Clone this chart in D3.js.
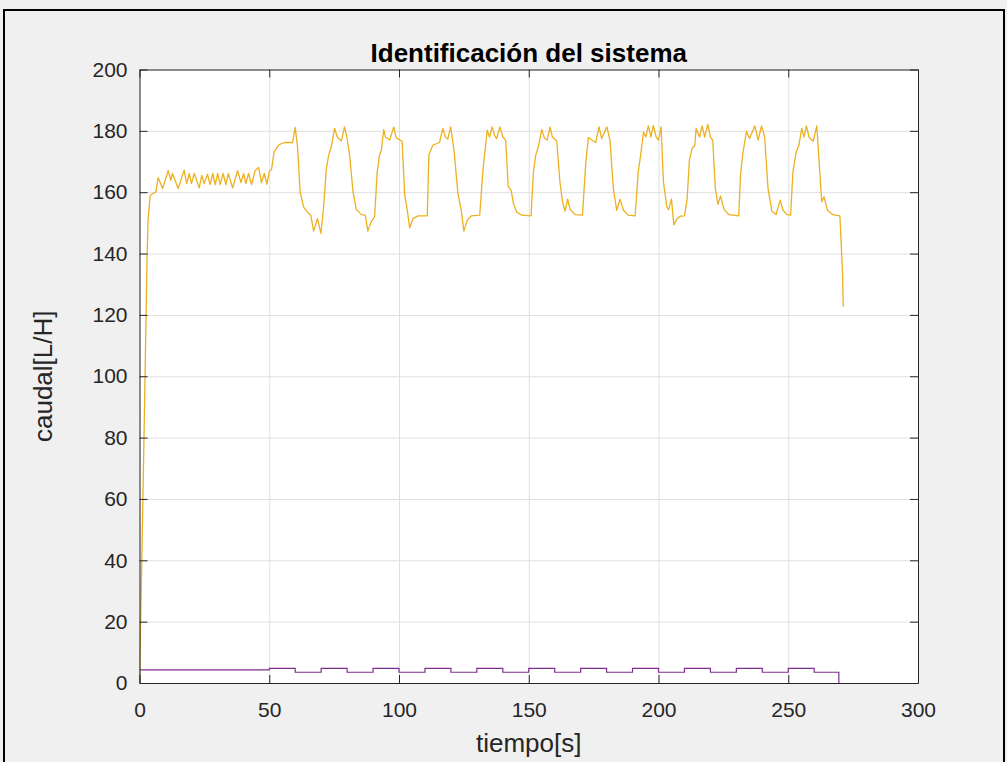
<!DOCTYPE html>
<html>
<head>
<meta charset="utf-8">
<script src="https://cdn.jsdelivr.net/npm/d3@7"></script>
<style>
  html, body { margin: 0; padding: 0; background: #f0f0f0; }
  svg { display: block; font-family: "Liberation Sans", Arial, sans-serif; }
</style>
</head>
<body>
<div id="chart"></div>
<script>
// caudal de salida (amarillo): tiempo [s] y caudal [L/H]
let tOut = [0, 1, 2, 2.9, 3.3, 4.1, 5, 6.3, 7.2, 8.9, 11.05, 12.1, 12.7, 14.9, 17.2, 18.2, 19.2, 20.0,
  21.1, 23.0, 24.0, 24.9, 26.2, 27.2, 28.2, 29.2, 30.1, 31.1, 32.2, 33.3, 34.2, 35.9, 37.8, 39.1, 40.1, 41.0,
  42.0, 43.2, 44.5, 45.9, 47.0, 48.1, 49.1, 50.0, 50.9, 51.9, 53.8, 55.8, 59.0, 60.0, 60.9, 61.9, 63.2, 64.8,
  66.0, 67.1, 68.6, 69.9, 70.9, 72.0, 72.9, 73.9, 75.2, 76.2, 77.8, 79.0, 79.9, 80.96, 82.3, 83.5, 85.5, 87.0,
  88.0, 89.3, 90.6, 91.6, 92.5, 93.2, 94.1, 94.8, 96.4, 98.0, 98.9, 101.2, 102.2, 103.2, 104.1, 105.4, 107.3,
  110.9, 111.5, 113.0, 115.6, 116.9, 117.9, 118.8, 119.9, 121.2, 122.7, 124.0, 125.0, 126.3, 127.9, 131.1,
  132.4, 134.0, 134.9, 135.9, 136.9, 137.6, 138.9, 140.0, 141.1, 142.1, 143.2, 144.1, 145.3, 147.3, 150.9,
  151.8, 152.7, 153.7, 155.0, 156.0, 157.1, 158.2, 159.1, 160.8, 162.0, 163.0, 164.0, 165.0, 165.9, 167.8,
  170.7, 172.0, 173.0, 174.3, 175.8, 177.1, 178.1, 180.1, 181.3, 182.6, 183.9, 185.2, 186.5, 188.4, 191.0,
  192.2, 193.3, 194.2, 195.1, 196.1, 197.1, 198.0, 199.1, 200.0, 201.0, 201.9, 203.2, 203.9, 205.0, 205.9,
  207.2, 208.5, 210.0, 211.0, 211.9, 212.9, 214.0, 214.5, 215.8, 216.8, 217.8, 219.0, 220.0, 220.9, 221.9,
  222.9, 223.9, 225.2, 227.1, 230.9, 231.6, 232.5, 233.9, 235.1, 237.1, 238.4, 239.7, 240.9, 242.2, 243.7,
  245.3, 246.9, 248.0, 249.5, 250.9, 251.8, 253.1, 254.1, 255.2, 256.1, 257.0, 258.0, 259.6, 261.0, 261.9,
  262.9, 263.8, 265.1, 267.1, 269.9, 270.9, 271.2];
let qOut = [0, 45, 93, 138, 151, 158.8, 159.5, 160.1, 164.8, 161.2, 167, 163.9, 166.1, 161.2, 167.2, 162.8, 166.1, 162.8,
  166.1, 161.4, 165.5, 162.8, 165.9, 162.5, 166.1, 162.5, 166.1, 162.5, 166.1, 162.5, 166.1, 161.4, 167, 163.1, 166.1, 162.8,
  166.1, 162.5, 166.9, 168.1, 163.1, 166.1, 162.6, 166.6, 167.5, 173.2, 175.5, 176.2, 176.2, 181.1, 174.8, 160.1, 155.2, 153.4,
  152.5, 147.3, 151.4, 146.6, 154.7, 167.7, 172.1, 174.8, 180.8, 178, 176.7, 181.3, 178, 172.1, 160.1, 154.5, 152.7, 152.5,
  147.3, 150.4, 152, 166.6, 172.1, 173.7, 180.4, 178, 177, 181.3, 177.7, 176.6, 159, 154.1, 148.4, 151.4, 152.3,
  152.3, 172.1, 175.3, 176.2, 180.8, 178, 177.3, 181.3, 173.7, 159.6, 154.1, 147.3, 150.9, 152.3, 152.5,
  167.7, 180.2, 178, 181.3, 178.3, 177.5, 181.3, 178, 177, 161.8, 160.7, 156.3, 153.6, 152.5, 152.3,
  166.6, 172.1, 174.8, 180.5, 177.7, 177, 181.3, 178, 176.6, 163.4, 156.9, 153.8, 157.7, 154.5, 152.7,
  152.5, 169.9, 177.8, 177, 176.2, 181.3, 177.5, 181.3, 177, 161.2, 154.1, 157.7, 154.1, 152.5, 152.3,
  166.6, 173.2, 179.6, 178, 181.6, 178, 181.8, 178, 177, 181.3, 163.4, 155.2, 154.3, 157.8, 149.3,
  151.4, 152.2, 152.3, 157.4, 170.4, 174.2, 175.3, 180.8, 178, 181.6, 178, 182.1, 178, 177, 161.2,
  156, 158.8, 154.5, 152.7, 152.3, 165.5, 172.6, 179.9, 177.5, 181.6, 177, 181.6, 178, 161.2, 153.8,
  152.7, 157.4, 154.1, 152.7, 152.5, 166.6, 173.2, 175.3, 180.8, 178, 181.6, 178, 176.6, 181.6, 169.9,
  156.9, 158.5, 154.1, 152.7, 152.3, 134, 122.7];

// senal de entrada (morado): escalones
let tStep = [0, 50, 60, 70, 80, 90, 100, 110, 120, 130, 140, 150, 160, 170, 180, 190, 200, 210, 220, 230, 240, 250, 260, 269.5];
let uStep = [4.25, 4.8, 3.5, 4.8, 3.5, 4.8, 3.5, 4.8, 3.5, 4.8, 3.5, 4.8, 3.5, 4.8, 3.5, 4.8, 3.5, 4.8, 3.5, 4.8, 3.5, 4.8, 3.5, 0];

let xTicks = [0, 50, 100, 150, 200, 250, 300];
let yTicks = [0, 20, 40, 60, 80, 100, 120, 140, 160, 180, 200];

let width = 1007, height = 762;
let margin = {top: 69.5, right: 89, bottom: 79, left: 139.5};

let svg = d3.select("#chart").append("svg")
    .attr("width", width)
    .attr("height", height);

svg.append("rect")
    .attr("x", 4).attr("y", 10)
    .attr("width", 1000).attr("height", 780)
    .attr("fill", "#f0f0f0")
    .attr("stroke", "#000").attr("stroke-width", 2);

let x = d3.scaleLinear().domain([0, 300]).range([margin.left, width - margin.right]);
let y = d3.scaleLinear().domain([0, 200]).range([height - margin.bottom, margin.top]);

svg.append("rect")
    .attr("x", x(0)).attr("y", y(200))
    .attr("width", x(300) - x(0)).attr("height", y(0) - y(200))
    .attr("fill", "#fff");

// grid
svg.append("g")
    .attr("transform", `translate(0,${y(0)})`)
    .call(d3.axisBottom(x).tickValues(xTicks).tickSize(-(y(0) - y(200))).tickFormat(""))
    .call(g => g.select(".domain").remove())
    .call(g => g.selectAll("line").attr("stroke", "#dfdfdf"));
svg.append("g")
    .attr("transform", `translate(${x(0)},0)`)
    .call(d3.axisLeft(y).tickValues(yTicks).tickSize(-(x(300) - x(0))).tickFormat(""))
    .call(g => g.select(".domain").remove())
    .call(g => g.selectAll("line").attr("stroke", "#dfdfdf"));

let outData = tOut.map((t, i) => ({t: t, q: qOut[i]}));
let inData = tStep.map((t, i) => ({t: t, q: uStep[i]}));

svg.append("path")
    .datum(inData)
    .attr("fill", "none")
    .attr("stroke", "#7E2F8E")
    .attr("stroke-width", 1.2)
    .attr("d", d3.line().x(d => x(d.t)).y(d => y(d.q)).curve(d3.curveStepAfter));

svg.append("path")
    .datum(outData)
    .attr("fill", "none")
    .attr("stroke", "#EDB120")
    .attr("stroke-width", 1.3)
    .attr("stroke-linejoin", "round")
    .attr("d", d3.line().x(d => x(d.t)).y(d => y(d.q)));

// axes (box with inward ticks)
let axisColor = "#262626";
let fontSize = 21;
let styleAxis = g => {
  g.select(".domain").attr("stroke", axisColor);
  g.selectAll(".tick line").attr("stroke", axisColor);
  g.selectAll(".tick text").attr("fill", axisColor).attr("font-size", fontSize)
    .attr("font-family", "'Liberation Sans', Arial, sans-serif");
};

svg.append("g")
    .attr("transform", `translate(0,${y(0)})`)
    .call(d3.axisBottom(x).tickValues(xTicks).tickSize(-8).tickSizeOuter(0).tickPadding(19))
    .call(styleAxis);
svg.append("g")
    .attr("transform", `translate(0,${y(200)})`)
    .call(d3.axisTop(x).tickValues(xTicks).tickSize(-8).tickSizeOuter(0).tickFormat(""))
    .call(styleAxis);
svg.append("g")
    .attr("transform", `translate(${x(0)},0)`)
    .call(d3.axisLeft(y).tickValues(yTicks).tickSize(-8).tickSizeOuter(0).tickPadding(12))
    .call(styleAxis);
svg.append("g")
    .attr("transform", `translate(${x(300)},0)`)
    .call(d3.axisRight(y).tickValues(yTicks).tickSize(-8).tickSizeOuter(0).tickFormat(""))
    .call(styleAxis);

// title and labels
svg.append("text")
    .attr("x", (x(0) + x(300)) / 2).attr("y", 62)
    .attr("text-anchor", "middle")
    .attr("font-size", 26).attr("font-weight", "bold")
    .attr("fill", "#000")
    .text("Identificación del sistema");

svg.append("text")
    .attr("x", (x(0) + x(300)) / 2).attr("y", 752)
    .attr("text-anchor", "middle")
    .attr("font-size", 26)
    .attr("fill", axisColor)
    .text("tiempo[s]");

svg.append("text")
    .attr("transform", `translate(52,${(y(0) + y(200)) / 2}) rotate(-90)`)
    .attr("text-anchor", "middle")
    .attr("font-size", 26)
    .attr("fill", axisColor)
    .text("caudal[L/H]");
</script>
</body>
</html>
